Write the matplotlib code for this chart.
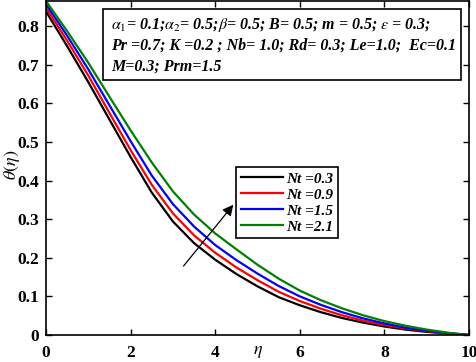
import matplotlib
matplotlib.use("Agg")
import matplotlib.pyplot as plt
from matplotlib.patches import Rectangle

plt.rcParams['font.family'] = ['Liberation Serif', 'DejaVu Serif']
plt.rcParams['mathtext.fontset'] = 'stix'

eta = [0.0, 0.5, 1.0, 1.5, 2.0, 2.5, 3.0, 3.5, 4.0, 4.5, 5.0,
       5.5, 6.0, 6.5, 7.0, 7.5, 8.0, 8.5, 9.0, 9.5, 10.0]
theta_nt03 = [0.838, 0.748, 0.655, 0.558, 0.461, 0.369, 0.294, 0.238, 0.195, 0.158, 0.126,
              0.098, 0.077, 0.059, 0.044, 0.032, 0.022, 0.014, 0.008, 0.004, 0.0]
theta_nt09 = [0.848, 0.762, 0.672, 0.575, 0.479, 0.389, 0.315, 0.258, 0.213, 0.175, 0.142,
              0.112, 0.088, 0.068, 0.051, 0.037, 0.026, 0.017, 0.010, 0.004, 0.0]
theta_nt15 = [0.857, 0.775, 0.688, 0.595, 0.502, 0.413, 0.339, 0.281, 0.233, 0.194, 0.159,
              0.127, 0.100, 0.078, 0.059, 0.043, 0.030, 0.019, 0.011, 0.005, 0.0]
theta_nt21 = [0.865, 0.787, 0.705, 0.617, 0.530, 0.447, 0.372, 0.312, 0.263, 0.222, 0.182,
              0.146, 0.115, 0.090, 0.069, 0.051, 0.036, 0.024, 0.014, 0.006, 0.0]

labels = ["Nt =0.3", "Nt =0.9", "Nt =1.5", "Nt =2.1"]
colors = ["black", "red", "blue", "green"]
xticks = [0, 2, 4, 6, 8, 10]
yticks = [0, 0.1, 0.2, 0.3, 0.4, 0.5, 0.6, 0.7, 0.8]
ytick_labels = ["0", "0.1", "0.2", "0.3", "0.4", "0.5", "0.6", "0.7", "0.8"]

fig = plt.figure(figsize=(4.77, 3.62), dpi=100)
ax = fig.add_axes([46/477, 1 - 335/362, 423/477, 334/362])

for y, c, lab in zip([theta_nt03, theta_nt09, theta_nt15, theta_nt21], colors, labels):
    ax.plot(eta, y, color=c, lw=1.6, label=lab, solid_joinstyle='round')

ax.set_xlim(0, 10)
ax.set_ylim(0, max(theta_nt21))
ax.set_xticks(xticks)
ax.set_xticklabels([str(t) for t in xticks], fontweight='bold', fontsize=12.5)
ax.set_yticks(yticks)
ax.set_yticklabels(ytick_labels, fontweight='bold', fontsize=12.5)
ax.tick_params(direction='in', top=True, right=True, length=4, width=1)
ax.tick_params(axis='x', pad=7)
ax.tick_params(axis='y', pad=5)
for s in ax.spines.values():
    s.set_linewidth(1.2)

ax.set_xlabel(r"$\eta$", fontsize=13)
ax.xaxis.set_label_coords(0.5, -0.025)
ax.set_ylabel(r"$\theta(\eta)$", fontsize=13)
ax.yaxis.set_label_coords(-0.056, 0.51)

leg = ax.legend(loc='upper left', bbox_to_anchor=(0.449, 0.502), frameon=True,
                fancybox=False, edgecolor='black', framealpha=1,
                prop={'family': 'Liberation Serif', 'weight': 'bold', 'style': 'italic', 'size': 11},
                handlelength=2.8, handletextpad=0.2, labelspacing=0.15, borderpad=0.3,
                borderaxespad=0)
leg.get_frame().set_linewidth(1.2)

ax.annotate("", xy=(4.47, 0.343), xytext=(3.21, 0.173),
            arrowprops=dict(arrowstyle='-|>', color='black', lw=0.9, mutation_scale=16))

# parameter box
x0 = (103 - 46) / 423
y0 = (335 - 80) / 334
w = (461 - 103) / 423
h = (80 - 9) / 334
ax.add_patch(Rectangle((x0, y0), w, h, transform=ax.transAxes, fill=True,
                       facecolor='white', edgecolor='black', lw=1.2, zorder=5))
tp = dict(transform=ax.transAxes, fontsize=11.5, fontweight='bold', style='italic',
          va='center', ha='left', zorder=6)
tx = x0 + 8 / 423
ax.text(tx, (335 - 25) / 334,
        r"$\alpha_{\mathit{1}}$= 0.1;$\alpha_{\mathit{2}}$= 0.5;$\beta$= 0.5; B= 0.5; m = 0.5; $\epsilon$ = 0.3;", **tp)
ax.text(tx, (335 - 46) / 334,
        "Pr =0.7; K =0.2 ; Nb= 1.0; Rd= 0.3; Le=1.0;  Ec=0.1", **tp)
ax.text(tx, (335 - 67) / 334, "M=0.3; Prm=1.5", **tp)

fig.savefig("out.png", dpi=100)
